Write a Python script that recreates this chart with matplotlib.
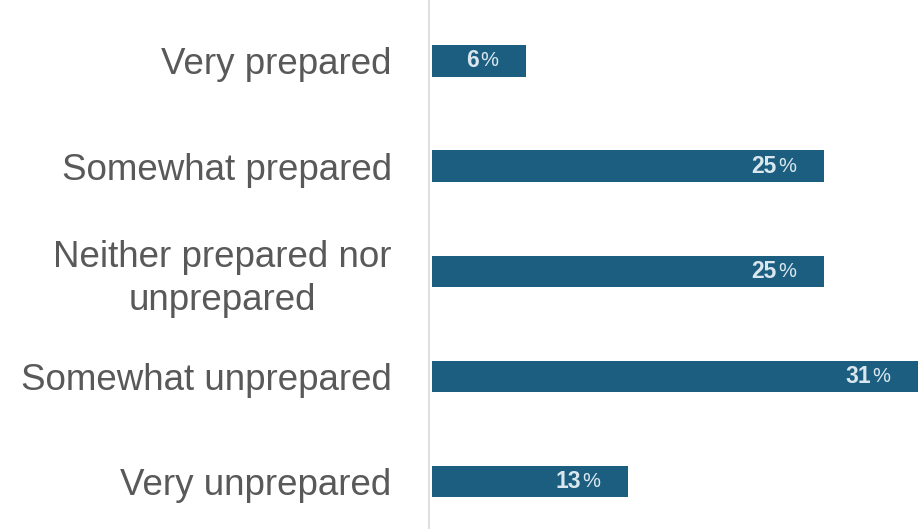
import matplotlib.pyplot as plt

categories = ['Very prepared', 'Somewhat prepared', 'Neither prepared nor\nunprepared',
              'Somewhat unprepared', 'Very unprepared']
values = [6, 25, 25, 31, 12.5]
value_labels = ['6', '25', '25', '31', '13']

bar_color = '#1b5e80'
text_color = '#595959'

fig = plt.figure(figsize=(9.18, 5.29), dpi=100)
ax = fig.add_axes([432 / 918, 0, 1 - 432 / 918, 1])

for s in ['top', 'right', 'bottom']:
    ax.spines[s].set_visible(False)
ax.spines['left'].set_position(('outward', 2))
ax.spines['left'].set_color('#d9d9d9')
ax.spines['left'].set_linewidth(1.2)

y = list(range(len(categories)))
ax.barh(y, values, height=0.30, color=bar_color)
ax.set_xlim(0, 31)
ax.set_ylim(4.45, -0.58)

ax.set_yticks(y)
ax.set_yticklabels(categories, fontsize=26.5, color=text_color, family='Liberation Sans',
                   multialignment='center', linespacing=1.3)
ax.tick_params(axis='y', length=0, pad=27)
ax.set_xticks([])

for yi, v, lab in zip(y, values, value_labels):
    ax.annotate('%', (v, yi), xytext=(-20, 0), textcoords='offset points',
                ha='right', va='center', color='#dbe7ef', fontsize=14.5,
                family='Liberation Sans')
    ax.annotate(lab, (v, yi), xytext=(-34, 0), textcoords='offset points',
                ha='right', va='center', color='#dbe7ef', fontsize=16.5, fontweight='bold',
                family='Liberation Sans')

fig.savefig('out.png', dpi=100)
